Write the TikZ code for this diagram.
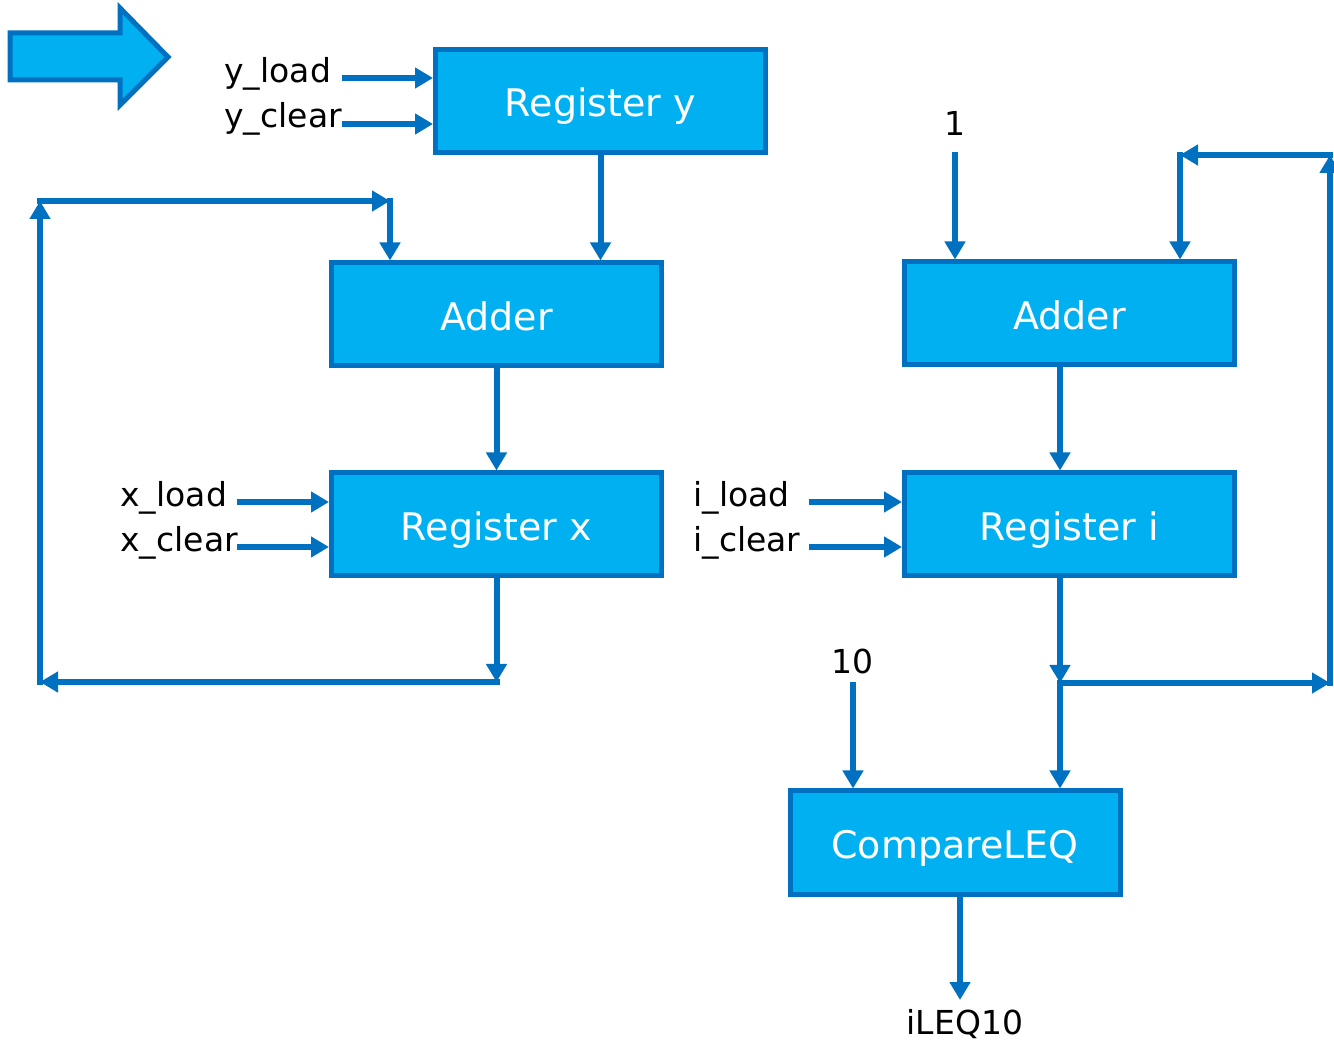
\documentclass[tikz,border=0pt]{standalone}
\usepackage{fontspec}
\setmainfont{DejaVu Sans}
\usetikzlibrary{arrows.meta}
\definecolor{celeste}{HTML}{00B0F0}
\definecolor{azul}{HTML}{0070C0}

\begin{document}
\begin{tikzpicture}[x=0.5pt,y=-0.5pt,
	bloque/.style={draw=azul,fill=celeste,line width=2.5pt,minimum width=165pt,minimum height=51.5pt,inner sep=0pt,text height=18pt,text depth=2pt,text=white,font=\fontsize{19}{22}\selectfont},
	etiq/.style={inner sep=0pt,anchor=base west,font=\fontsize{16.5}{20}\selectfont},
	cable/.style={draw=azul,line width=3pt,line cap=rect,-{Triangle[length=9pt,width=10pt]}}]
		
		\useasboundingbox (0,0) rectangle (1334,1042);
		
		% Flecha grande
		\filldraw[fill=celeste,draw=azul,line width=2.5pt] (10,33) -- (120,33) -- (120,8) -- (168,57) -- (120,105) -- (120,80) -- (10,80) -- cycle;
		
		% Bloques
		\node[bloque] (regy) at (600.5,101) {Register y};
		\node[bloque] (sumx) at (496.5,314.5) {Adder};
		\node[bloque] (regx) at (496.5,524.5) {Register x};
		\node[bloque] (sumi) at (1069.5,313.5) {Adder};
		\node[bloque] (regi) at (1069.5,524.5) {Register i};
		\node[bloque] (comp) at (955,842.5) {CompareLEQ};
		
		% Entradas de control
		\node[etiq] (ylo) at (224,83) {y\_load};
		\node[etiq] (ycl) at (224,128) {y\_clear};
		\node[etiq] (xlo) at (120,507) {x\_load};
		\node[etiq] (xcl) at (120,552) {x\_clear};
		\node[etiq] (ilo) at (693,507) {i\_load};
		\node[etiq] (icl) at (693,552) {i\_clear};
		\coordinate (ya) at (345,78);
		\coordinate (yb) at (345,124);
		\coordinate (xa) at (240,502);
		\coordinate (xb) at (240,547);
		\coordinate (ia) at (812,502);
		\coordinate (ib) at (812,547);
		\draw[cable] (ya) -- (ya -| regy.west);
		\draw[cable] (yb) -- (yb -| regy.west);
		\draw[cable] (xa) -- (xa -| regx.west);
		\draw[cable] (xb) -- (xb -| regx.west);
		\draw[cable] (ia) -- (ia -| regi.west);
		\draw[cable] (ib) -- (ib -| regi.west);
		
		% Camino de x
		\coordinate (ab) at (496.5,682);
		\coordinate (ai) at (40,682);
		\coordinate (ri) at (40,201);
		\coordinate (rd) at (390,201);
		\draw[cable] (regy.south) -- (regy.south |- sumx.north);
		\draw[cable] (sumx.south) -- (regx.north);
		\draw[cable] (regx.south) -- (ab);
		\draw[cable] (ab) -- (ai);
		\draw[cable] (ai) -- (ri);
		\draw[cable] (ri) -- (rd);
		\draw[cable] (rd) -- (rd |- sumx.north);
		
		% Camino de i
		\node[etiq,anchor=base] (uno) at (955,136) {1};
		\node[etiq,anchor=base] (diez) at (852,674) {10};
		\node[etiq,anchor=base] (res) at (965,1034) {iLEQ10};
		\coordinate (u) at (955,155);
		\coordinate (d) at (853,685);
		\coordinate (ci) at (1060,683);
		\coordinate (cd) at (1330,683);
		\coordinate (sd) at (1330,155);
		\coordinate (si) at (1180,155);
		\coordinate (sal) at (960,1000);
		\draw[cable] (u) -- (u |- sumi.north);
		\draw[cable] (sumi.south -| ci) -- (regi.north -| ci);
		\draw[cable] (regi.south -| ci) -- (ci);
		\draw[cable] (ci) -- (cd);
		\draw[cable] (cd) -- (sd);
		\draw[cable] (sd) -- (si);
		\draw[cable] (si) -- (si |- sumi.north);
		\draw[cable] (ci) -- (ci |- comp.north);
		\draw[cable] (d) -- (d |- comp.north);
		\draw[cable] (comp.south -| sal) -- (sal);
	\end{tikzpicture}
\end{document}
